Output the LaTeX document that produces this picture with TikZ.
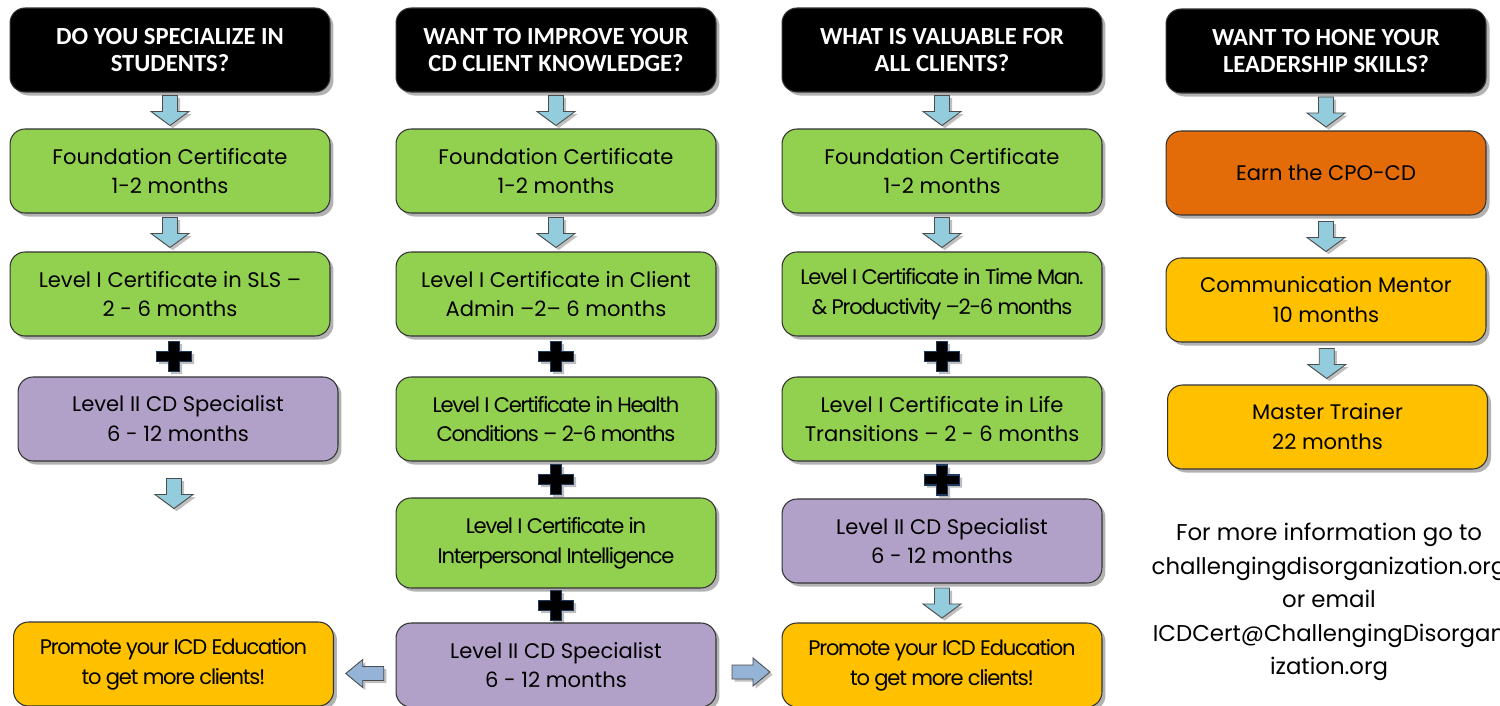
\documentclass[tikz,border=0pt]{standalone}
\usepackage{fontspec}
\setmainfont{Poppins}
\newfontfamily\headfont{Carlito}
\newfontfamily\narrowfont[LetterSpace=-6]{Poppins}
\usetikzlibrary{shadows,calc}

\definecolor{boxgreen}{HTML}{92D050}
\definecolor{boxpurple}{HTML}{B1A0C7}
\definecolor{boxyellow}{HTML}{FFC000}
\definecolor{boxorange}{HTML}{E36C09}
\definecolor{arrblue}{HTML}{93CDDD}
\definecolor{sideblue}{HTML}{95B3D7}
\definecolor{plusedge}{HTML}{1F3A5F}

\tikzset{
  box/.style={draw=black!80, line width=0.6pt, rounded corners=0.3cm,
    minimum width=6.4cm, minimum height=1.68cm, align=center,
    font=\fontsize{12}{17}\selectfont,
    drop shadow={shadow xshift=2pt, shadow yshift=-2pt, opacity=0.3, fill=black}},
  headbox/.style={box, fill=black, text=white,
    font=\headfont\bfseries\fontsize{14}{15.6}\selectfont},
  greenbox/.style={box, fill=boxgreen},
  purplebox/.style={box, fill=boxpurple},
  yellowbox/.style={box, fill=boxyellow},
  orangebox/.style={box, fill=boxorange},
  darr/.pic={
    \draw[fill=arrblue, draw=black!70, line width=0.5pt,
      drop shadow={shadow xshift=1.5pt, shadow yshift=-1.5pt, opacity=0.25, fill=black}]
      (-7.5,-15) -- (7.5,-15) -- (7.5,1) -- (19,1) -- (0,15) -- (-19,1) -- (-7.5,1) -- cycle;},
  larr/.pic={
    \draw[fill=sideblue, draw=black!70, line width=0.5pt,
      drop shadow={shadow xshift=1.5pt, shadow yshift=-1.5pt, opacity=0.25, fill=black}]
      (19,-7) -- (-2,-7) -- (-2,-14) -- (-19,0) -- (-2,14) -- (-2,7) -- (19,7) -- cycle;},
  plus/.pic={
    \draw[fill=black, draw=plusedge, line width=0.6pt,
      drop shadow={shadow xshift=1.5pt, shadow yshift=-1.5pt, opacity=0.25, fill=black}]
      (-5.5,-15) -- (5.5,-15) -- (5.5,-5) -- (17.5,-5) -- (17.5,5) -- (5.5,5)
      -- (5.5,15) -- (-5.5,15) -- (-5.5,5) -- (-17.5,5) -- (-17.5,-5) -- (-5.5,-5) -- cycle;}
}

\begin{document}
\begin{tikzpicture}[x=0.02cm, y=-0.02cm]
  \useasboundingbox[fill=white] (0,0) rectangle (1500,706);

  % students
  \node[headbox] (h1) at (170,50) {DO YOU SPECIALIZE IN\\STUDENTS?};
  \node[greenbox] (a1) at (170,171) {Foundation Certificate\\1-2 months};
  \node[greenbox] (a2) at (170,294) {Level I Certificate in SLS –\\2 - 6 months};
  \node[purplebox] (a3) at (178,419) {Level II CD Specialist\\6 - 12 months};
  \node[yellowbox] (a4) at (173.5,664) {\narrowfont Promote your ICD Education\\\narrowfont to get more clients!};

  % client knowledge
  \node[headbox] (h2) at (556,50) {WANT TO IMPROVE YOUR\\CD CLIENT KNOWLEDGE?};
  \node[greenbox] (b1) at (556,171) {Foundation Certificate\\1-2 months};
  \node[greenbox] (b2) at (556,294) {Level I Certificate in Client\\Admin –2– 6 months};
  \node[greenbox] (b3) at (556,419) {\narrowfont Level I Certificate in Health\\\narrowfont Conditions – 2-6 months};
  \node[greenbox, minimum height=1.8cm] (b4) at (556,543) {\narrowfont Level I Certificate in\\\narrowfont Interpersonal Intelligence};
  \node[purplebox] (b5) at (556,665) {Level II CD Specialist\\6 - 12 months};

  % all clients
  \node[headbox] (h3) at (942,50) {WHAT IS VALUABLE FOR\\ALL CLIENTS?};
  \node[greenbox] (c1) at (942,171) {Foundation Certificate\\1-2 months};
  \node[greenbox] (c2) at (942,294) {\narrowfont Level I Certificate in Time Man.\\\narrowfont \& Productivity –2-6 months};
  \node[greenbox] (c3) at (942,419) {Level I Certificate in Life\\Transitions – 2 - 6 months};
  \node[purplebox] (c4) at (942,541) {Level II CD Specialist\\6 - 12 months};
  \node[yellowbox] (c5) at (942,665) {\narrowfont Promote your ICD Education\\\narrowfont to get more clients!};

  % leadership
  \node[headbox] (h4) at (1326,51) {WANT TO HONE YOUR\\LEADERSHIP SKILLS?};
  \node[orangebox] (d1) at (1326,173) {Earn the CPO-CD};
  \node[yellowbox] (d2) at (1326,300) {Communication Mentor\\10 months};
  \node[yellowbox] (d3) at (1327.5,427) {Master Trainer\\22 months};

  \node[align=center, font=\fontsize{13}{19}\selectfont] (info) at (1329,602)
    {For more information go to\\challengingdisorganization.org\\or email\\ICDCert@ChallengingDisorgan\\ization.org};

  % arrows
  \pic at ($(h1.south)!0.5!(a1.north)$) {darr};
  \pic at ($(a1.south)!0.5!(a2.north)$) {darr};
  \pic at ($(a3.south)+(-4,32)$) {darr};
  \pic at ($(h2.south)!0.5!(b1.north)$) {darr};
  \pic at ($(b1.south)!0.5!(b2.north)$) {darr};
  \pic at ($(h3.south)!0.5!(c1.north)$) {darr};
  \pic at ($(c1.south)!0.5!(c2.north)$) {darr};
  \pic at ($(c4.south)!0.5!(c5.north)$) {darr};
  \pic at ($(h4.south)!0.5!(d1.north)$) {darr};
  \pic at ($(d1.south)!0.5!(d2.north)$) {darr};
  \pic at ($(d2.south)!0.5!(d3.north)$) {darr};
  \pic at ($(a4.east)!0.5!(b5.west)+(0,9)$) {larr};
  \pic[xscale=-1] at ($(b5.east)!0.5!(c5.west)+(2,7)$) {larr};

  % plus signs
  \pic at ($(a2.south)!0.5!(a3.north)$) {plus};
  \pic at ($(b2.south)!0.5!(b3.north)$) {plus};
  \pic at ($(b3.south)!0.5!(b4.north)$) {plus};
  \pic at ($(b4.south)!0.5!(b5.north)$) {plus};
  \pic at ($(c2.south)!0.5!(c3.north)$) {plus};
  \pic at ($(c3.south)!0.5!(c4.north)$) {plus};
\end{tikzpicture}
\end{document}
